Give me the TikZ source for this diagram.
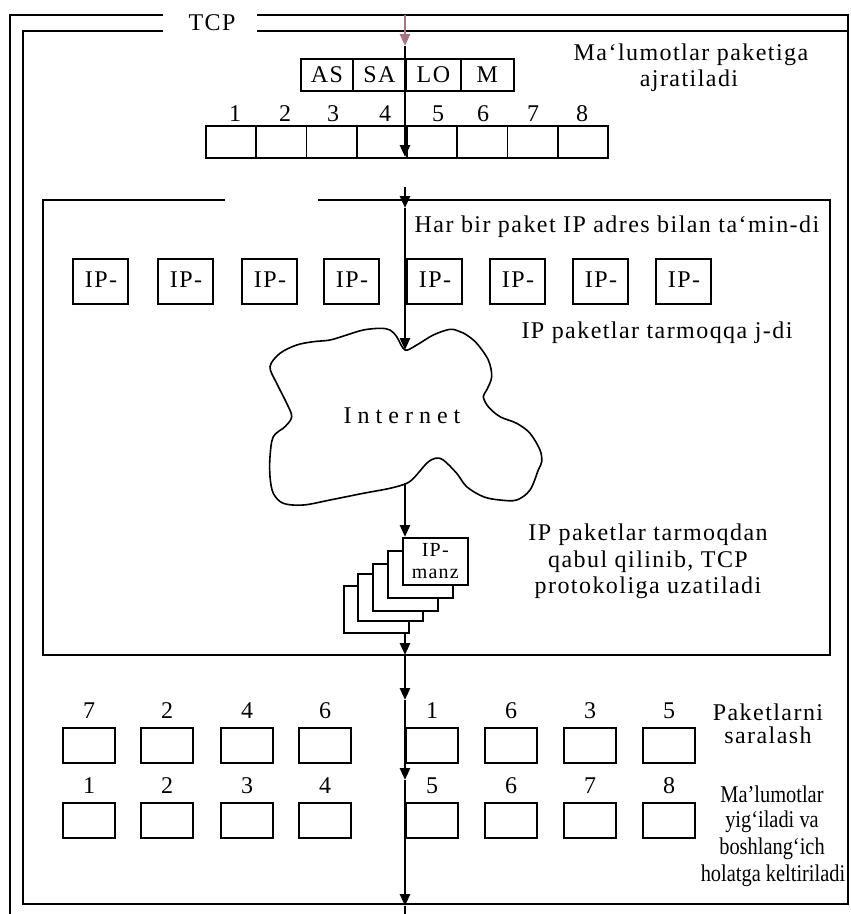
\documentclass[tikz,border=0pt]{standalone}
\usepackage{fontspec}
\setmainfont[LetterSpace=6]{Liberation Serif}
\newfontfamily\spacedfont[LetterSpace=25]{Liberation Serif}
\newfontfamily\plainfont{Liberation Serif}
\usetikzlibrary{arrows.meta}
\definecolor{pinkish}{RGB}{165,115,130}
\begin{document}
\begin{tikzpicture}[x=1pt,y=-1pt,
  font=\fontsize{24}{27}\selectfont,
  frame/.style={line width=1.8pt},
  axisline/.style={line width=2.6pt},
  axarrow/.style={line width=2.6pt,-{Triangle[width=10pt,length=12pt]}},
  cell/.style={draw,line width=1.8pt,inner sep=0pt,anchor=north west},
  stackbox/.style={cell,fill=white,line width=1.6pt,minimum width=65pt,minimum height=47pt},
  txt/.style={anchor=base,inner sep=0pt},
  narrow/.style={anchor=base,inner sep=0pt,font=\plainfont\fontsize{24}{27}\selectfont},
]
\useasboundingbox (0,0) rectangle (851,914);

% ---- TCP double frame ----
\draw[frame] (163,15) -- (10,15) -- (10,914);
\draw[frame] (257,15) -- (848,15) -- (848,31);
\draw[frame] (163,31) -- (23,31) -- (23,904) -- (848,904) -- (848,31) -- (257,31);
\node[txt] (tcp) at (212,30) {TCP};

% ---- IP frame ----
\draw[frame] (225,200) -- (43,200) -- (43,655) -- (830,655) -- (830,200) -- (318,200);

% ---- header boxes ----
\node[cell,minimum width=52pt,minimum height=32pt] (as) at (300,58) {AS};
\node[cell,minimum width=53pt,minimum height=32pt] (sa) at (352,58) {SA};
\node[cell,minimum width=55pt,minimum height=32pt] (lo) at (405,58) {LO};
\node[cell,minimum width=53pt,minimum height=32pt] (mm) at (460,58) {M};

% ---- packet cells ----
\foreach \i/\lx in {1/235,2/285,3/333,4/385,5/438,6/483,7/533,8/582}{
  \node[cell,minimum width=50.25pt,minimum height=32pt] (p\i) at ({205+50.25*(\i-1)},125) {};
  \node[txt] (pl\i) at (\lx,121) {\i};
}

% ---- IP boxes ----
\foreach \i/\x in {1/72,2/157,3/241,4/323,5/406,6/489,7/572,8/655}{
  \node[cell,minimum width=55pt,minimum height=45pt] (ip\i) at (\x,258) {};
  \node[txt] (ipt\i) at ({\x+29},287) {IP-};
}

% ---- cloud ----
\draw[line width=1.6pt] plot[smooth cycle, tension=0.55] coordinates {
 (405,350) (416.7,345) (433.3,335) (450,329.3) (460,331.7) (466.7,335)
 (476.7,343.3) (488.3,360) (491.7,376.7) (486.7,390) (483.3,396.7)
 (488.3,406.7) (500,416.7) (516.7,423.3) (530,433.3) (540,450)
 (541.7,461.7) (538.3,470) (530,490) (516.7,500) (500,500) (483.3,496.7)
 (466.7,486.7) (456.7,473.3) (443.3,460) (435,458.3) (426.7,463.3)
 (415,476.7) (406.7,483.3) (390,488.3) (363.3,493.3) (330,500)
 (303.3,505) (283.3,503.3) (273.3,493.3) (270,476.7) (270,456.7)
 (273.3,436.7) (285,426.7) (291.7,416.7) (286.7,403.3) (276.7,383.3)
 (270,366.7) (280,353.3) (296.7,345) (313.3,341.7) (330,340)
 (346.7,335) (363.3,330) (380,328.3) (390,330) (396.7,336.7)};
\node[txt] (inet) at (402,423) {\spacedfont Internet};

% ---- axis ----
\coordinate (ax0) at (405,15);
\coordinate (ax1) at (405,46);
\coordinate (ax2) at (405,157);
\coordinate (ax3) at (405,187);
\coordinate (ax4) at (405,208);
\coordinate (ax5) at (405,350);
\coordinate (ax6) at (405,483);
\coordinate (ax7) at (405,537);
\coordinate (ax8) at (405,632);
\coordinate (ax9) at (405,655);
\coordinate (ax10) at (405,700);
\coordinate (ax11) at (405,780);
\coordinate (ax12) at (405,906);
\coordinate (ax13) at (405,914);
\draw[axarrow,pinkish] (ax0) -- (ax1);
\draw[axarrow] (ax1) -- (ax2);
\draw[axarrow] (ax3) -- (ax4);
\draw[axarrow] (ax4) -- (ax5);
\draw[axarrow] (ax6) -- (ax7);
\draw[axarrow] (ax8) -- (ax9);
\draw[axarrow] (ax9) -- (ax10);
\draw[axarrow] (ax10) -- (ax11);
\draw[axarrow] (ax11) -- (ax12);
\draw[axisline] (ax12) -- (ax13);

% ---- stacked received packets ----
\node[stackbox] (s5) at (343,585) {};
\node[stackbox] (s4) at (357,573) {};
\node[stackbox] (s3) at (372,563) {};
\node[stackbox] (s2) at (387,550) {};
\node[stackbox,align=center,font=\fontsize{20}{22}\selectfont] (s1) at (402,537) {IP-\\manz};

% ---- sorting rows ----
\foreach \i/\x/\l in {1/62/7,2/140/2,3/220/4,4/298/6,5/405/1,6/484/6,7/563/3,8/642/5}{
  \node[cell,minimum width=52pt,minimum height=35pt] (ra\i) at (\x,727) {};
  \node[txt] (ral\i) at ({\x+27},718) {\l};
}
\foreach \i/\x in {1/62,2/140,3/220,4/298,5/405,6/484,7/563,8/642}{
  \node[cell,minimum width=52pt,minimum height=35pt] (rb\i) at (\x,802) {};
  \node[txt] (rbl\i) at ({\x+27},793) {\i};
}

% ---- descriptions ----
\node[txt] (d1a) at (691,60) {Ma`lumotlar paketiga};
\node[txt] (d1b) at (689,86) {ajratiladi};
\node[txt] (d2) at (617,232) {Har bir paket IP adres bilan ta`min-di};
\node[txt] (d3) at (657,338) {IP paketlar tarmoqqa j-di};
\node[txt] (d4a) at (648,540) {IP paketlar tarmoqdan};
\node[txt] (d4b) at (648,567) {qabul qilinib, TCP};
\node[txt] (d4c) at (648,593) {protokoliga uzatiladi};
\node[txt] (d5a) at (768,720) {Paketlarni};
\node[txt] (d5b) at (768,743) {saralash};
\node[narrow] (d6a) at (772,802) {\scalebox{0.85}[1]{Ma’lumotlar}};
\node[narrow] (d6b) at (772,827) {\scalebox{0.85}[1]{yig‘iladi va}};
\node[narrow] (d6c) at (772,854) {\scalebox{0.85}[1]{boshlang‘ich}};
\node[narrow] (d6d) at (773,881) {\scalebox{0.85}[1]{holatga keltiriladi}};
\end{tikzpicture}
\end{document}
